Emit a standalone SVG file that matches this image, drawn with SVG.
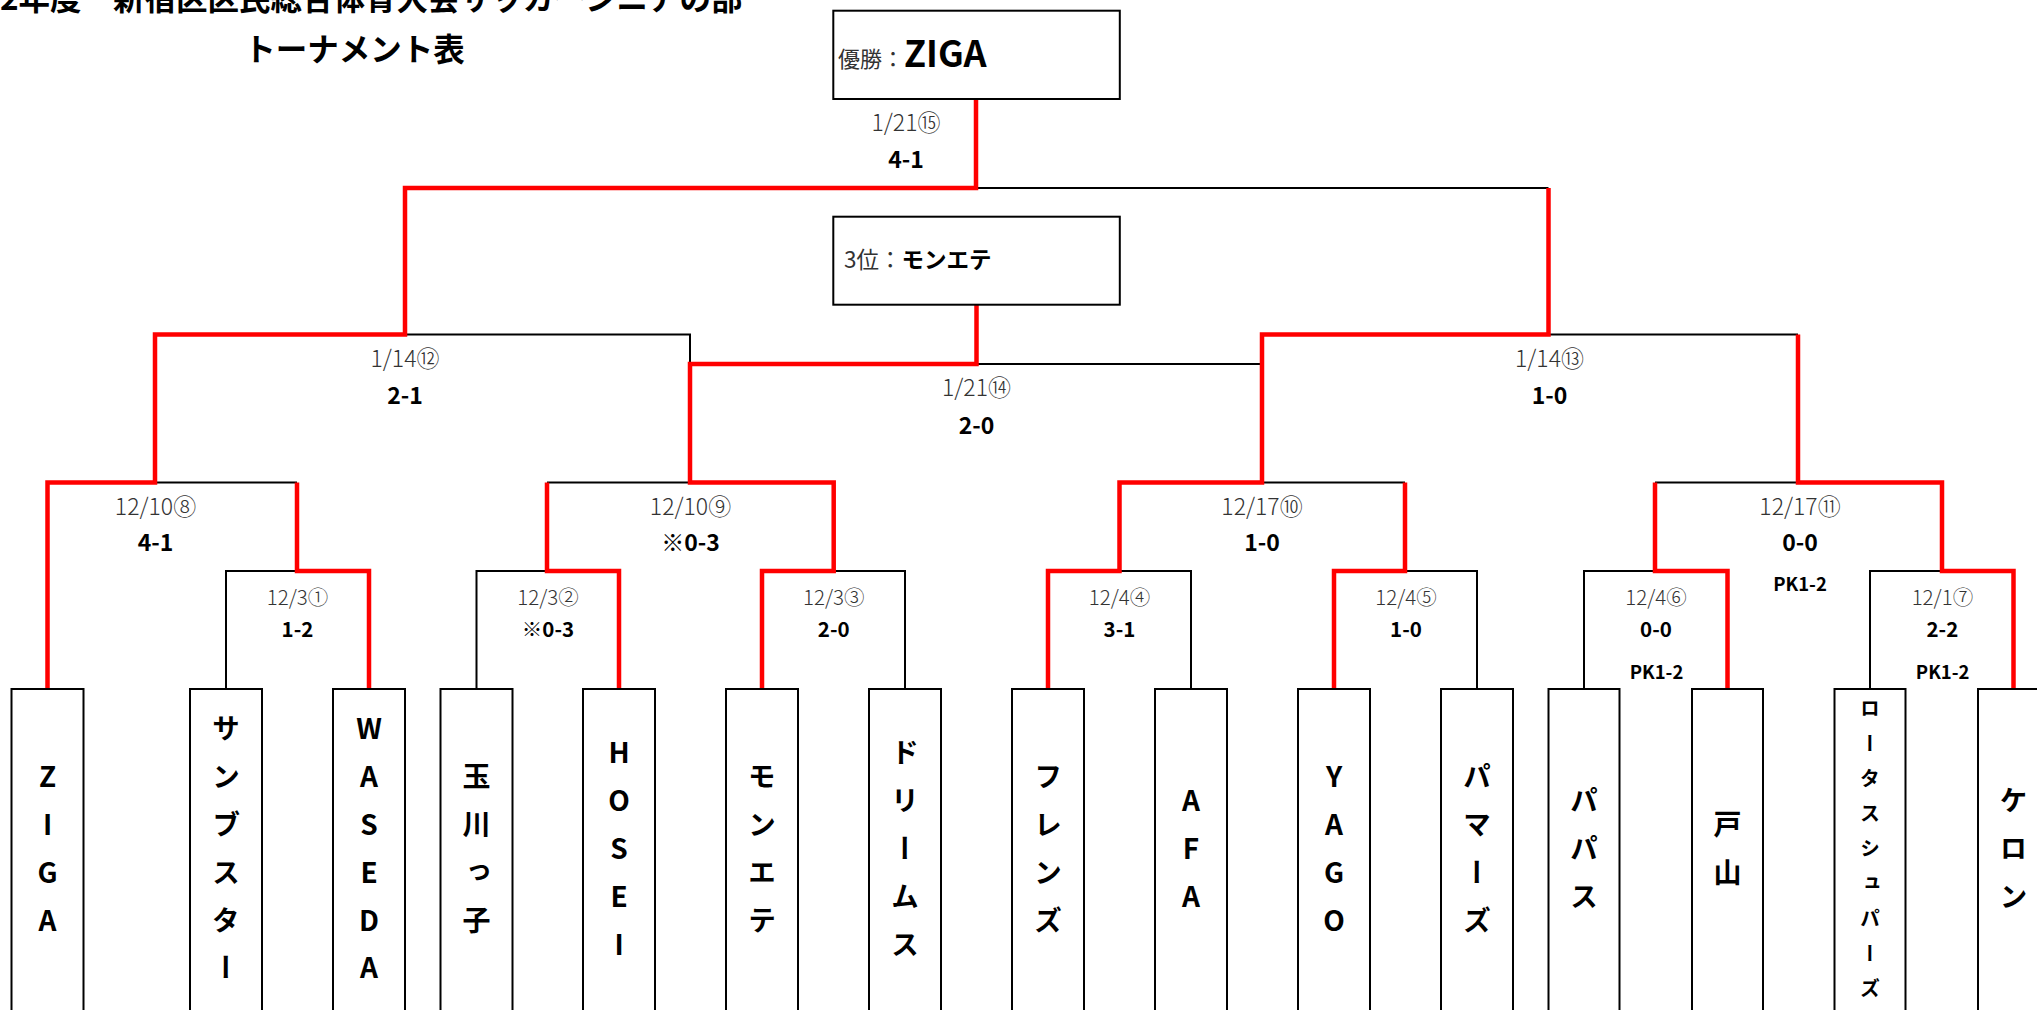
<svg xmlns="http://www.w3.org/2000/svg" width="2037" height="1010" viewBox="0 0 2037 1010">
<style>
text{font-family:"Noto Sans CJK JP","Noto Sans",sans-serif;}
.bg{fill:#fff;}
.box{fill:#fff;stroke:#000;stroke-width:2;}
.blk{fill:none;stroke:#000;stroke-width:2;}
.red{fill:none;stroke:#ff0000;stroke-width:4.5;stroke-linejoin:miter;stroke-linecap:butt;}
.date{font-size:23px;font-weight:300;fill:#333;text-anchor:middle;}
.d1{font-size:20.5px;}
.score{font-size:23px;font-weight:700;fill:#000;text-anchor:middle;}
.s1{font-size:20.5px;}
.pk{font-size:18.5px;font-weight:700;fill:#000;text-anchor:middle;}
.team{font-size:28px;font-weight:700;fill:#000;writing-mode:vertical-rl;text-orientation:upright;letter-spacing:19.8px;text-anchor:middle;}
.team.small{font-size:20px;letter-spacing:15.1px;}
.title{font-size:31.5px;font-weight:700;fill:#000;}
</style>
<rect class="bg" x="0" y="0" width="2037" height="1010"/>
<g id="title">
<text class="title" x="0" y="10">2年度　新宿区区民総合体育大会サッカーシニアの部</text>
<text class="title" x="354.5" y="61" text-anchor="middle">トーナメント表</text>
</g>
<g id="connectors">
<path class="blk" d="M226 689V571H297"/>
<path class="blk" d="M476.5 689V571H547"/>
<path class="blk" d="M905 689V571H833.7"/>
<path class="blk" d="M1191 689V571H1119.5"/>
<path class="blk" d="M1477 689V571H1405"/>
<path class="blk" d="M1584 689V571H1655"/>
<path class="blk" d="M1870 689V571H1942"/>
<path class="blk" d="M155 482.5H297"/>
<path class="blk" d="M547 482.5H690"/>
<path class="blk" d="M1262 482.5H1405"/>
<path class="blk" d="M1655 482.5H1798"/>
<path class="blk" d="M405 334.5H690V364"/>
<path class="blk" d="M1548.5 334.5H1798"/>
<path class="blk" d="M976.5 364H1262"/>
<path class="blk" d="M976 188H1548.5"/>
<path class="red" d="M47.5 689V482.5H155V334.5H405V188H976V99"/>
<path class="red" d="M369 689V571H297V482.5"/>
<path class="red" d="M619 689V571H547V482.5"/>
<path class="red" d="M762 689V571H833.7V482.5H690V364H976.5V304.7"/>
<path class="red" d="M1048 689V571H1119.5V482.5H1262V334.5H1548.5V188"/>
<path class="red" d="M1334 689V571H1405V482.5"/>
<path class="red" d="M1727.5 689V571H1655V482.5"/>
<path class="red" d="M2013.5 689V571H1942V482.5H1798V334.5"/>
</g>
<g id="match-labels">
<text class="date" x="906" y="131">1/21⑮</text>
<text class="score" x="906" y="168">4-1</text>
<text class="date" x="405" y="367">1/14⑫</text>
<text class="score" x="405" y="404">2-1</text>
<text class="date" x="1549.5" y="367">1/14⑬</text>
<text class="score" x="1549.5" y="404">1-0</text>
<text class="date" x="976.5" y="396">1/21⑭</text>
<text class="score" x="976.5" y="434">2-0</text>
<text class="date" x="155.5" y="515">12/10⑧</text>
<text class="score" x="155.5" y="551">4-1</text>
<text class="date" x="690.5" y="515">12/10⑨</text>
<text class="score" x="690.5" y="551">※0-3</text>
<text class="date" x="1262" y="515">12/17⑩</text>
<text class="score" x="1262" y="551">1-0</text>
<text class="date" x="1800" y="515">12/17⑪</text>
<text class="score" x="1800" y="551">0-0</text>
<text class="pk" x="1800" y="591">PK1-2</text>
<text class="date d1" x="297.5" y="605">12/3①</text>
<text class="score s1" x="297.5" y="637">1-2</text>
<text class="date d1" x="548" y="605">12/3②</text>
<text class="score s1" x="548" y="637">※0-3</text>
<text class="date d1" x="833.7" y="605">12/3③</text>
<text class="score s1" x="833.7" y="637">2-0</text>
<text class="date d1" x="1119.5" y="605">12/4④</text>
<text class="score s1" x="1119.5" y="637">3-1</text>
<text class="date d1" x="1406" y="605">12/4⑤</text>
<text class="score s1" x="1406" y="637">1-0</text>
<text class="date d1" x="1656" y="605">12/4⑥</text>
<text class="score s1" x="1656" y="637">0-0</text>
<text class="pk" x="1656.5" y="679">PK1-2</text>
<text class="date d1" x="1942.4" y="605">12/1⑦</text>
<text class="score s1" x="1942.4" y="637">2-2</text>
<text class="pk" x="1942.7" y="679">PK1-2</text>
</g>
<g id="winner">
<rect class="box" x="833.3" y="10.7" width="286.5" height="88.3"/>
<text x="838" y="66.5"><tspan font-size="22" fill="#333">優勝：</tspan><tspan font-size="36" font-weight="700">ZIGA</tspan></text>
</g>
<g id="third-place">
<rect class="box" x="833.3" y="216.7" width="286.5" height="88"/>
<text x="844" y="268" font-size="22.5"><tspan fill="#333">3位：</tspan><tspan font-weight="700">モンエテ</tspan></text>
</g>
<g id="team-ziga"><rect class="box" x="11.5" y="689" width="72" height="340"/><text class="team" x="47.5" y="858.2">ZIGA</text></g>
<g id="team-sunbster"><rect class="box" x="190" y="689" width="72" height="340"/><text class="team" x="226" y="858.2">サンブスター</text></g>
<g id="team-waseda"><rect class="box" x="333" y="689" width="72" height="340"/><text class="team" x="369" y="858.2">WASEDA</text></g>
<g id="team-tamagawakko"><rect class="box" x="440.5" y="689" width="72" height="340"/><text class="team" x="476.5" y="858.2">玉川っ子</text></g>
<g id="team-hosei"><rect class="box" x="583" y="689" width="72" height="340"/><text class="team" x="619" y="858.2">HOSEI</text></g>
<g id="team-montete"><rect class="box" x="726" y="689" width="72" height="340"/><text class="team" x="762" y="858.2">モンエテ</text></g>
<g id="team-dreams"><rect class="box" x="869" y="689" width="72" height="340"/><text class="team" x="905" y="858.2">ドリームス</text></g>
<g id="team-friends"><rect class="box" x="1012" y="689" width="72" height="340"/><text class="team" x="1048" y="858.2">フレンズ</text></g>
<g id="team-afa"><rect class="box" x="1155" y="689" width="72" height="340"/><text class="team" x="1191" y="858.2">AFA</text></g>
<g id="team-yago"><rect class="box" x="1298" y="689" width="72" height="340"/><text class="team" x="1334" y="858.2">YAGO</text></g>
<g id="team-pamars"><rect class="box" x="1441" y="689" width="72" height="340"/><text class="team" x="1477" y="858.2">パマーズ</text></g>
<g id="team-papas"><rect class="box" x="1548.5" y="689" width="71" height="340"/><text class="team" x="1584" y="858.2">パパス</text></g>
<g id="team-toyama"><rect class="box" x="1692" y="689" width="71" height="340"/><text class="team" x="1727.5" y="858.2">戸山</text></g>
<g id="team-lotus"><rect class="box" x="1834.5" y="689" width="71" height="340"/><text class="team small" x="1870" y="855.9">ロータスシュパーズ</text></g>
<g id="team-keron"><rect class="box" x="1978" y="689" width="72" height="340"/><text class="team" x="2013.5" y="858.2">ケロン</text></g>
</svg>
